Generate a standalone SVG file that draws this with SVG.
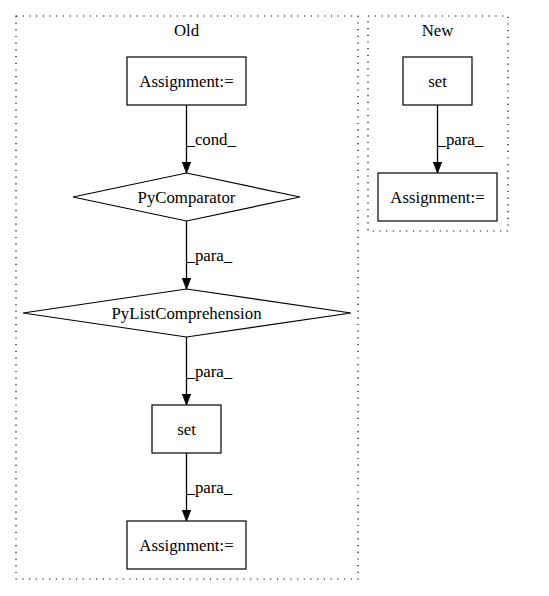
<svg xmlns="http://www.w3.org/2000/svg" width="549" height="596" viewBox="0 0 549 596">
<defs>
<marker id="ah" markerWidth="11" markerHeight="11" refX="13" refY="5" orient="auto" markerUnits="userSpaceOnUse" viewBox="0 0 13 10">
<path d="M0,0 L13,5 L0,10 Z" fill="#000" stroke="#000" stroke-width="1"/>
</marker>
</defs>
<style>
text{font-family:"Liberation Serif","Times New Roman","DejaVu Serif",serif;font-size:16.8px;fill:#000}
.c{text-anchor:middle}
.cl{fill:none;stroke:#000;stroke-width:1.2;stroke-dasharray:1.2,5.5}
.n{fill:#fff;stroke:#000;stroke-width:1.2}
.e{fill:none;stroke:#000;stroke-width:1.3;marker-end:url(#ah)}
</style>
<rect width="549" height="596" fill="#fff"/>
<g id="cluster_old">
<rect class="cl" x="16" y="16" width="342" height="563"/>
<text class="c" x="186.5" y="36">Old</text>
</g>
<g id="cluster_new">
<rect class="cl" x="368" y="16" width="140" height="215"/>
<text class="c" x="437.5" y="36">New</text>
</g>
<g id="edges">
<line class="e" x1="186.5" y1="105" x2="186.5" y2="173"/>
<text x="186.5" y="145">_cond_</text>
<line class="e" x1="186.5" y1="221" x2="186.5" y2="289"/>
<text x="186.5" y="261">_para_</text>
<line class="e" x1="186.5" y1="337" x2="186.5" y2="405"/>
<text x="186.5" y="377">_para_</text>
<line class="e" x1="186.5" y1="453" x2="186.5" y2="521"/>
<text x="186.5" y="493">_para_</text>
<line class="e" x1="437.5" y1="105" x2="437.5" y2="173"/>
<text x="437.5" y="145">_para_</text>
</g>
<g id="old_assign1">
<rect class="n" x="127" y="57" width="119" height="48"/>
<text class="c" x="186.5" y="86.5">Assignment:=</text>
</g>
<g id="old_pycomparator">
<polygon class="n" points="186.5,173 300,197 186.5,221 73,197"/>
<text class="c" x="186.5" y="202.5">PyComparator</text>
</g>
<g id="old_pylistcomp">
<polygon class="n" points="186.5,289 351,313 186.5,337 23,313"/>
<text class="c" x="186.5" y="318.5">PyListComprehension</text>
</g>
<g id="old_set">
<rect class="n" x="152" y="405" width="69" height="48"/>
<text class="c" x="186.5" y="434.5">set</text>
</g>
<g id="old_assign2">
<rect class="n" x="127" y="521" width="119" height="48"/>
<text class="c" x="186.5" y="550.5">Assignment:=</text>
</g>
<g id="new_set">
<rect class="n" x="403" y="57" width="69" height="48"/>
<text class="c" x="437.5" y="86.5">set</text>
</g>
<g id="new_assign">
<rect class="n" x="378" y="173" width="119" height="48"/>
<text class="c" x="437.5" y="202.5">Assignment:=</text>
</g>
</svg>
